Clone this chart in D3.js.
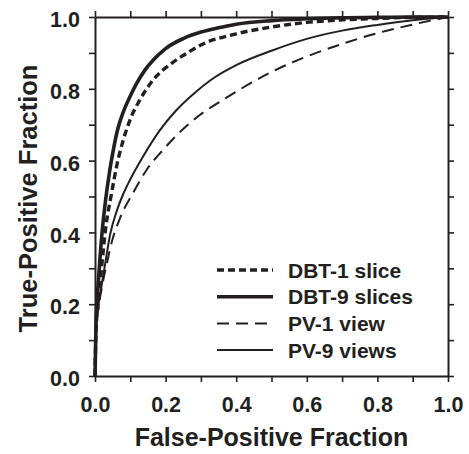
<!DOCTYPE html>
<html>
<head>
<meta charset="utf-8">
<script src="https://cdn.jsdelivr.net/npm/d3@7"></script>
<style>
  html, body { margin: 0; padding: 0; background: #fff; }
  svg { display: block; }
  text { font-family: "Liberation Sans", Arial, sans-serif; font-weight: bold; fill: #231f20; }
</style>
</head>
<body>
<svg id="chart" width="469" height="454"></svg>
<script>
// ---- data ----
const seriesNames = ["DBT-1 slice", "DBT-9 slices", "PV-1 view", "PV-9 views"];

const dbt1FPF = [0, 0.003, 0.01, 0.02, 0.03, 0.047, 0.061, 0.08, 0.099, 0.127, 0.165, 0.217, 0.265, 0.3, 0.4, 0.5, 0.6, 0.7, 0.8, 0.9, 1.0];
const dbt1TPF = [0, 0.13, 0.21, 0.315, 0.41, 0.509, 0.583, 0.657, 0.713, 0.769, 0.825, 0.871, 0.902, 0.922, 0.953, 0.972, 0.985, 0.992, 0.996, 0.999, 1.0];

const dbt9FPF = [0, 0.003, 0.01, 0.02, 0.03, 0.042, 0.052, 0.065, 0.08, 0.1, 0.118, 0.14, 0.165, 0.2, 0.25, 0.3, 0.35, 0.4, 0.5, 0.6, 0.7, 0.8, 0.9, 1.0];
const dbt9TPF = [0, 0.15, 0.27, 0.40, 0.49, 0.574, 0.63, 0.69, 0.735, 0.78, 0.815, 0.85, 0.88, 0.912, 0.94, 0.958, 0.97, 0.98, 0.99, 0.995, 0.998, 0.999, 1.0, 1.0];

const pv1FPF = [0, 0.003, 0.01, 0.02, 0.034, 0.048, 0.071, 0.109, 0.146, 0.193, 0.241, 0.297, 0.354, 0.4, 0.5, 0.6, 0.7, 0.8, 0.9, 1.0];
const pv1TPF = [0, 0.13, 0.19, 0.25, 0.315, 0.375, 0.44, 0.512, 0.574, 0.63, 0.68, 0.727, 0.764, 0.792, 0.847, 0.89, 0.925, 0.955, 0.979, 1.0];

const pv9FPF = [0, 0.003, 0.01, 0.02, 0.03, 0.043, 0.061, 0.08, 0.099, 0.137, 0.184, 0.231, 0.278, 0.33, 0.4, 0.5, 0.6, 0.7, 0.8, 0.9, 1.0];
const pv9TPF = [0, 0.14, 0.2, 0.26, 0.32, 0.395, 0.458, 0.507, 0.546, 0.613, 0.685, 0.741, 0.785, 0.826, 0.866, 0.906, 0.939, 0.962, 0.978, 0.991, 1.0];

const xTickValues = [0, 0.1, 0.2, 0.3, 0.4, 0.5, 0.6, 0.7, 0.8, 0.9, 1.0];
const yTickValues = [0, 0.1, 0.2, 0.3, 0.4, 0.5, 0.6, 0.7, 0.8, 0.9, 1.0];
const labelTicks = [0, 0.2, 0.4, 0.6, 0.8, 1.0];
const xTitle = "False-Positive Fraction";
const yTitle = "True-Positive Fraction";

// ---- layout / styles ----
const W = 469, H = 454;
const margin = { left: 95, right: 21, top: 17, bottom: 78 };
const iw = W - margin.left - margin.right;
const ih = H - margin.top - margin.bottom;
const ink = "#231f20";

const styles = [
  { width: 3.4, dash: "7,4" },
  { width: 3.6, dash: null },
  { width: 2, dash: "12,7" },
  { width: 2, dash: null }
];

const svg = d3.select("#chart");
const g = svg.append("g").attr("transform", `translate(${margin.left},${margin.top})`);

const x = d3.scaleLinear().domain([0, 1]).range([0, iw]);
const y = d3.scaleLinear().domain([0, 1]).range([ih, 0]);

const fmt = v => labelTicks.some(t => Math.abs(t - v) < 1e-9) ? d3.format(".1f")(v) : "";

function styleAxis(sel) {
  sel.select(".domain").attr("stroke", ink).attr("stroke-width", 2);
  sel.selectAll(".tick line").attr("stroke", ink).attr("stroke-width", 1.6);
  sel.selectAll(".tick text").attr("fill", ink).style("font-size", "21.5px")
     .style("font-family", '"Liberation Sans", Arial, sans-serif').style("font-weight", "bold");
}

// bottom
const gx = g.append("g").attr("transform", `translate(0,${ih})`)
  .call(d3.axisBottom(x).tickValues(xTickValues).tickSize(6).tickSizeOuter(0).tickPadding(15).tickFormat(fmt));
styleAxis(gx);
// top
const gxt = g.append("g")
  .call(d3.axisTop(x).tickValues(xTickValues).tickSize(6).tickSizeOuter(0).tickFormat(""));
styleAxis(gxt);
// left
const gy = g.append("g")
  .call(d3.axisLeft(y).tickValues(yTickValues).tickSize(6).tickSizeOuter(0).tickPadding(9).tickFormat(fmt));
styleAxis(gy);
gy.selectAll(".tick text").attr("dy", "0.45em");
// right
const gyr = g.append("g").attr("transform", `translate(${iw},0)`)
  .call(d3.axisRight(y).tickValues(yTickValues).tickSize(6).tickSizeOuter(0).tickFormat(""));
styleAxis(gyr);

// curves
const series = [
  { fpf: dbt1FPF, tpf: dbt1TPF },
  { fpf: dbt9FPF, tpf: dbt9TPF },
  { fpf: pv1FPF, tpf: pv1TPF },
  { fpf: pv9FPF, tpf: pv9TPF }
];
const line = d3.line().x(d => x(d[0])).y(d => y(d[1])).curve(d3.curveMonotoneX);

series.forEach((s, i) => {
  const pts = s.fpf.map((f, k) => [f, s.tpf[k]]);
  g.append("path")
    .datum(pts)
    .attr("d", line)
    .attr("fill", "none")
    .attr("stroke", ink)
    .attr("stroke-width", styles[i].width)
    .attr("stroke-dasharray", styles[i].dash)
    .attr("stroke-linejoin", "round");
});

// legend
const leg = svg.append("g").attr("transform", "translate(217,270)");
seriesNames.forEach((name, i) => {
  const row = leg.append("g").attr("transform", `translate(0,${i * 26.7})`);
  row.append("line").attr("x1", 0).attr("x2", 56).attr("y1", 0).attr("y2", 0)
    .attr("stroke", ink).attr("stroke-width", styles[i].width)
    .attr("stroke-dasharray", styles[i].dash);
  row.append("text").attr("x", 71).attr("y", 7.5).style("font-size", "21px").text(name);
});

// axis titles
svg.append("text")
  .attr("x", margin.left + iw / 2).attr("y", 446)
  .attr("text-anchor", "middle").style("font-size", "25px").text(xTitle);
svg.append("text")
  .attr("transform", `translate(37,${margin.top + ih / 2 + 2}) rotate(-90)`)
  .attr("text-anchor", "middle").style("font-size", "25.5px").text(yTitle);
</script>
</body>
</html>
